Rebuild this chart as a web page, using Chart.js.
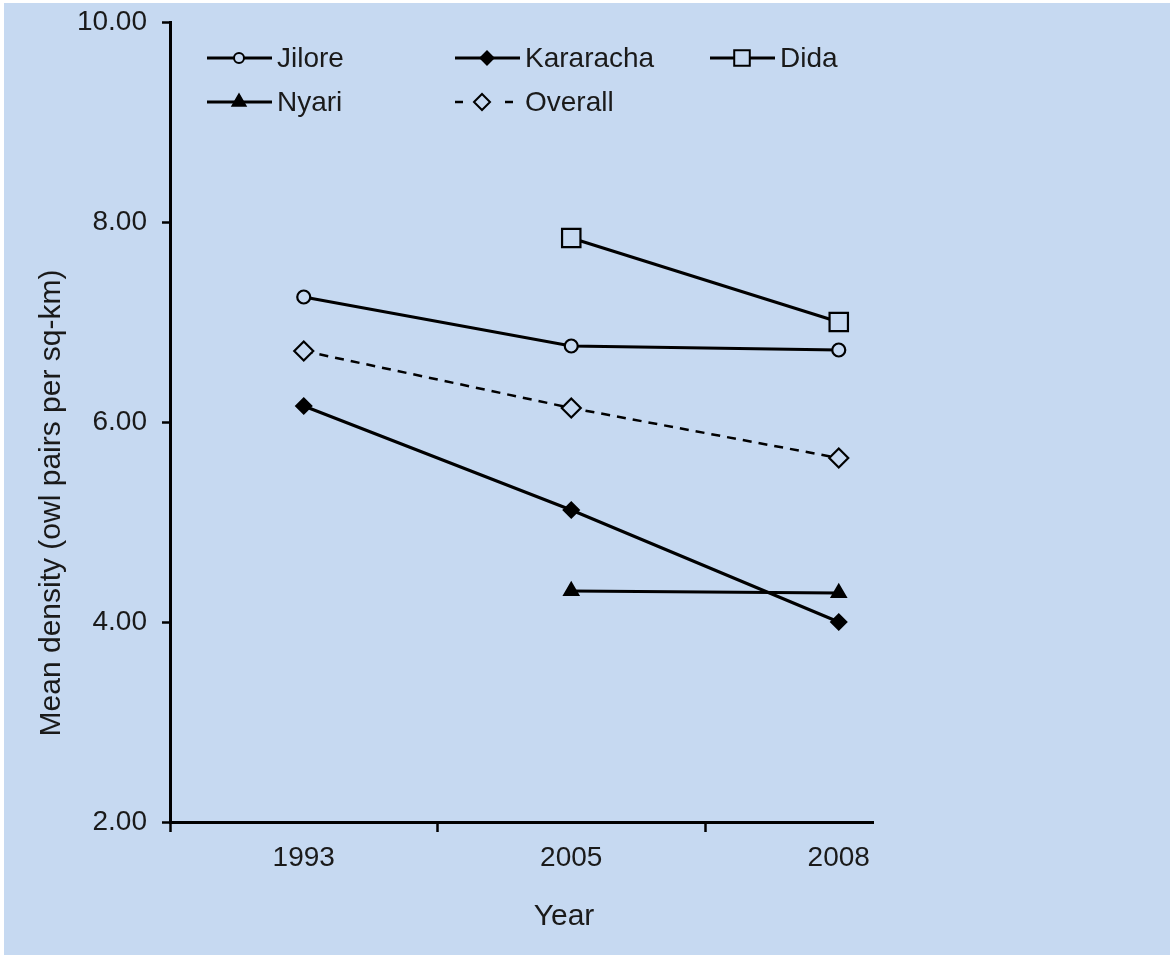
<!DOCTYPE html>
<html>
<head>
<meta charset="utf-8">
<script src="https://cdn.jsdelivr.net/npm/chart.js@4.4.1/dist/chart.umd.min.js"></script>
<style>
  html, body { margin: 0; padding: 0; background: #ffffff; }
  #wrap { width: 1170px; height: 955px; }
</style>
</head>
<body>
<div id="wrap"><canvas id="c" width="1170" height="955"></canvas></div>
<script>
// Survey years (category axis) and mean owl-pair densities per site
const years = ['1993', '2005', '2008'];
const jilore    = [7.25, 6.76, 6.72];
const kararacha = [6.16, 5.12, 4.00];
const dida      = [null, 7.84, 7.00];
const nyari     = [null, 4.31, 4.29];
const overall   = [6.71, 6.14, 5.64];
const yTicks    = [2, 4, 6, 8, 10];

const BG = '#c6d9f1';
const FONT = '"Liberation Sans", Arial, sans-serif';

const toPoints = vals => vals.map((v, i) => ({ x: i, y: v }));

const series = [
  { label: 'Jilore',    data: jilore,    pointStyle: 'circle',   radius: 6.5, legendR: 5,   fill: BG,     dash: [],     width: 3 },
  { label: 'Kararacha', data: kararacha, pointStyle: 'rectRot',  radius: 7.5, legendR: 6.5, fill: '#000', dash: [],     width: 3 },
  { label: 'Dida',      data: dida,      pointStyle: 'rect',     radius: 13,  legendR: 11,  fill: BG,     dash: [],     width: 3 },
  { label: 'Nyari',     data: nyari,     pointStyle: 'triangle', radius: 8,   legendR: 7.5, fill: '#000', dash: [],     width: 3 },
  { label: 'Overall',   data: overall,   pointStyle: 'rectRot',  radius: 9.5, legendR: 8,   fill: BG,     dash: [9, 7], width: 2.5 }
];

const datasets = series.map(s => ({
  label: s.label,
  data: toPoints(s.data),
  borderColor: '#000',
  borderWidth: s.width,
  borderDash: s.dash,
  pointStyle: s.pointStyle,
  pointRadius: s.radius,
  pointHoverRadius: s.radius,
  pointBackgroundColor: s.fill,
  pointBorderColor: '#000',
  pointBorderWidth: 2.2,
  legendRadius: s.legendR,
  tension: 0
}));

// Page background with a thin white margin along the top and left edges
const backgroundPlugin = {
  id: 'bg',
  beforeDraw(chart) {
    const ctx = chart.ctx;
    ctx.save();
    ctx.fillStyle = BG;
    ctx.fillRect(4, 3, chart.width - 4, chart.height - 3);
    ctx.restore();
  }
};

// Axis titles
const titlesPlugin = {
  id: 'axisTitles',
  afterDraw(chart) {
    const ctx = chart.ctx;
    ctx.save();
    ctx.fillStyle = '#1a1a1a';
    ctx.font = '30px ' + FONT;
    ctx.textAlign = 'center';
    ctx.textBaseline = 'middle';
    ctx.fillText('Year', 564, 917);
    ctx.translate(52, 503);
    ctx.rotate(-Math.PI / 2);
    ctx.fillText('Mean density (owl pairs per sq-km)', 0, 0);
    ctx.restore();
  }
};

// Two-row legend: line sample with marker, then series name
const legendPlugin = {
  id: 'sampleLegend',
  afterDraw(chart) {
    const ctx = chart.ctx;
    const cols = [207, 455, 710];
    const rows = [58, 102];
    const slots = [[0, 0], [1, 0], [2, 0], [0, 1], [1, 1]];
    chart.data.datasets.forEach((ds, i) => {
      const x0 = cols[slots[i][0]];
      const y = rows[slots[i][1]];
      ctx.save();
      ctx.strokeStyle = '#000';
      ctx.lineWidth = ds.borderWidth;
      let mx;
      if (ds.borderDash && ds.borderDash.length) {
        ctx.beginPath();
        ctx.moveTo(x0, y); ctx.lineTo(x0 + 8, y);
        ctx.moveTo(x0 + 50, y); ctx.lineTo(x0 + 58, y);
        ctx.stroke();
        mx = x0 + 27;
      } else {
        ctx.beginPath();
        ctx.moveTo(x0, y); ctx.lineTo(x0 + 65, y);
        ctx.stroke();
        mx = x0 + 32;
      }
      ctx.fillStyle = ds.pointBackgroundColor;
      ctx.lineWidth = 2;
      Chart.helpers.drawPoint(ctx, { pointStyle: ds.pointStyle, radius: ds.legendRadius, borderWidth: 2, rotation: 0 }, mx, y);
      ctx.fillStyle = '#1a1a1a';
      ctx.font = '28px ' + FONT;
      ctx.textAlign = 'left';
      ctx.textBaseline = 'middle';
      ctx.fillText(ds.label, x0 + 70, y + 1);
      ctx.restore();
    });
  }
};

new Chart(document.getElementById('c'), {
  type: 'line',
  data: { datasets },
  options: {
    responsive: false,
    animation: false,
    events: [],
    layout: { padding: { left: 0, top: 22, right: 297, bottom: 0 } },
    plugins: { legend: { display: false }, tooltip: { enabled: false } },
    scales: {
      x: {
        type: 'linear',
        min: -0.5,
        max: 2.128,
        afterFit(s) { s.height = 133; s.paddingLeft = 0; s.paddingRight = 0; },
        afterBuildTicks(s) {
          s.ticks = [-0.5, 0, 0.5, 1, 1.5, 2].map(v => ({ value: v }));
        },
        border: { color: '#000', width: 3 },
        grid: {
          drawOnChartArea: false,
          tickLength: 10,
          tickWidth: 2.5,
          tickColor: c => (c.tick && Number.isInteger(c.tick.value)) ? 'rgba(0,0,0,0)' : '#000'
        },
        ticks: {
          autoSkip: false,
          maxRotation: 0,
          padding: 9,
          color: '#1a1a1a',
          font: { family: FONT, size: 28 },
          callback: v => Number.isInteger(v) ? years[v] : ''
        }
      },
      y: {
        min: 2,
        max: 10,
        afterFit(s) { s.width = 170; s.paddingTop = 0; s.paddingBottom = 0; },
        afterBuildTicks(s) {
          s.ticks = yTicks.map(v => ({ value: v }));
        },
        border: { color: '#000', width: 3 },
        grid: { drawOnChartArea: false, tickLength: 8, tickWidth: 2.5, tickColor: '#000' },
        ticks: {
          padding: 15,
          color: '#1a1a1a',
          font: { family: FONT, size: 28 },
          callback: v => v.toFixed(2)
        }
      }
    }
  },
  plugins: [backgroundPlugin, titlesPlugin, legendPlugin]
});
</script>
</body>
</html>
